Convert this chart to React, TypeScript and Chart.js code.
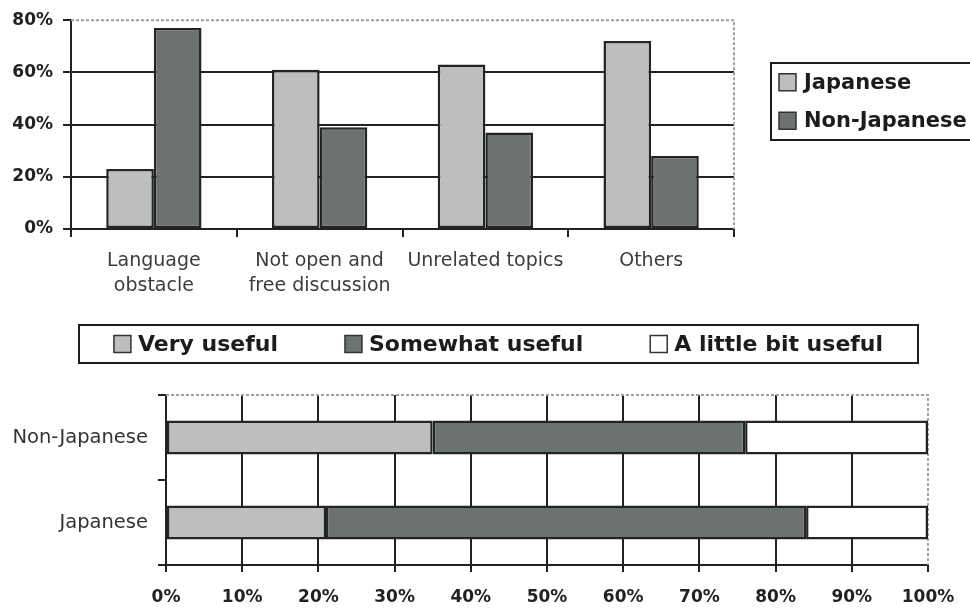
import React, { useEffect, useRef } from "react";
import { Chart, registerables } from "chart.js";

Chart.register(...registerables);

// ---------- Data ----------
const obstacleCategories = [
  ["Language", "obstacle"],
  ["Not open and", "free discussion"],
  ["Unrelated topics"],
  ["Others"],
];
const japaneseShare = [23, 61, 63, 72];
const nonJapaneseShare = [77, 39, 37, 28];
const topAxisMax = 80;
const topAxisStep = 20;

const groupLabels = ["Non-Japanese", "Japanese"];
const veryUseful = [35, 21];
const somewhatUseful = [41, 63];
const littleBitUseful = [24, 16];
const bottomAxisMax = 100;
const bottomAxisStep = 10;

// ---------- Styles ----------
const LIGHT = "#bcbfbb";
const DARK = "#6c736e";
const WHITE = "#ffffff";
const EDGE = "#242424";
const GRID = "#222222";
const FONT = "'DejaVu Sans', 'Liberation Sans', Arial, sans-serif";

const plotFrame = {
  id: "plotFrame",
  beforeDatasetsDraw(chart: any) {
    const { ctx, chartArea: a } = chart;
    ctx.save();
    ctx.strokeStyle = "#a0a0a0";
    ctx.lineWidth = 2;
    ctx.setLineDash([3, 2]);
    ctx.beginPath();
    ctx.moveTo(a.left, a.top);
    ctx.lineTo(a.right, a.top);
    ctx.lineTo(a.right, a.bottom);
    ctx.stroke();
    ctx.restore();
  },
};

const boxLegend = {
  id: "boxLegend",
  afterDraw(chart: any, _args: any, opts: any) {
    if (!opts || !opts.show) return;
    const ctx = chart.ctx;
    const items = chart.data.datasets.map((d: any) => ({
      text: d.label as string,
      fill: d.backgroundColor as string,
    }));
    ctx.save();
    ctx.font = `bold ${opts.fontSize}px ${FONT}`;
    ctx.fillStyle = "#ffffff";
    ctx.fillRect(opts.x, opts.y, opts.w, opts.h);
    ctx.lineWidth = 2;
    ctx.strokeStyle = "#1e1e1e";
    ctx.strokeRect(opts.x, opts.y, opts.w, opts.h);
    ctx.textBaseline = "middle";
    ctx.textAlign = "left";
    const sw = opts.swatch;
    const drawItem = (it: any, x: number, cy: number) => {
      ctx.fillStyle = it.fill;
      ctx.fillRect(x, cy - sw / 2, sw, sw);
      ctx.lineWidth = 1.5;
      ctx.strokeStyle = "#333333";
      ctx.strokeRect(x, cy - sw / 2, sw, sw);
      ctx.fillStyle = "#1c1c1c";
      ctx.fillText(it.text, x + sw + opts.gap, cy + 1);
    };
    if (opts.layout === "column") {
      const rowH = opts.h / items.length;
      items.forEach((it: any, i: number) => {
        drawItem(it, opts.x + opts.padX, opts.y + rowH * (i + 0.5));
      });
    } else {
      const widths = items.map((it: any) => sw + opts.gap + ctx.measureText(it.text).width);
      const total = widths.reduce((s: number, w: number) => s + w, 0) + opts.spacing * (items.length - 1);
      let x = opts.x + (opts.w - total) / 2;
      const cy = opts.y + opts.h / 2;
      items.forEach((it: any, i: number) => {
        drawItem(it, x, cy);
        x += widths[i] + opts.spacing;
      });
    }
    ctx.restore();
  },
};

function TopChart() {
  const ref = useRef<HTMLCanvasElement | null>(null);
  useEffect(() => {
    if (!ref.current) return;
    const chart = new Chart(ref.current, {
      type: "bar",
      data: {
        labels: obstacleCategories as any,
        datasets: [
          {
            label: "Japanese",
            data: japaneseShare,
            backgroundColor: LIGHT,
            borderColor: EDGE,
            borderWidth: 2.5,
            borderSkipped: false,
          },
          {
            label: "Non-Japanese",
            data: nonJapaneseShare,
            backgroundColor: DARK,
            borderColor: EDGE,
            borderWidth: 2.5,
            borderSkipped: false,
          },
        ],
      },
      options: {
        responsive: false,
        animation: false,
        layout: { padding: { top: 20, left: 0, right: 236, bottom: 0 } },
        datasets: { bar: { categoryPercentage: 0.575, barPercentage: 1 } },
        plugins: {
          legend: { display: false },
          tooltip: { enabled: false },
          boxLegend: {
            show: true,
            layout: "column",
            x: 771,
            y: 63,
            w: 230,
            h: 77,
            padX: 8,
            fontSize: 21,
            swatch: 17,
            gap: 8,
          },
        } as any,
        scales: {
          x: {
            grid: {
              offset: true,
              drawOnChartArea: false,
              drawTicks: true,
              tickLength: 8,
              tickColor: GRID,
              tickWidth: 2,
              lineWidth: 2,
              color: GRID,
            },
            border: { display: true, color: GRID, width: 2 },
            ticks: {
              color: "#3c3c3c",
              font: { family: FONT, size: 19, lineHeight: 1.3 },
              padding: 12,
              maxRotation: 0,
              autoSkip: false,
            },
            afterFit: (s: any) => {
              s.height = 76;
            },
          },
          y: {
            min: 0,
            max: topAxisMax,
            ticks: {
              stepSize: topAxisStep,
              callback: (v: any) => v + "%",
              color: "#222222",
              font: { family: FONT, size: 17, weight: "bold" },
              padding: 10,
            },
            grid: {
              color: (c: any) => (c.tick && c.tick.value === topAxisMax ? "rgba(0,0,0,0)" : GRID),
              lineWidth: 2,
              tickLength: 8,
              tickColor: GRID,
              tickWidth: 2,
            },
            border: { color: GRID, width: 2 },
            afterFit: (s: any) => {
              s.width = 71;
            },
          },
        },
      },
      plugins: [plotFrame, boxLegend],
    });
    return () => chart.destroy();
  }, []);
  return <canvas ref={ref} width={970} height={305} style={{ display: "block" }} />;
}

function BottomChart() {
  const ref = useRef<HTMLCanvasElement | null>(null);
  useEffect(() => {
    if (!ref.current) return;
    const chart = new Chart(ref.current, {
      type: "bar",
      data: {
        labels: groupLabels,
        datasets: [
          {
            label: "Very useful",
            data: veryUseful,
            backgroundColor: LIGHT,
            borderColor: EDGE,
            borderWidth: 2.5,
            borderSkipped: false,
          },
          {
            label: "Somewhat useful",
            data: somewhatUseful,
            backgroundColor: DARK,
            borderColor: EDGE,
            borderWidth: 2.5,
            borderSkipped: false,
          },
          {
            label: "A little bit useful",
            data: littleBitUseful,
            backgroundColor: WHITE,
            borderColor: EDGE,
            borderWidth: 2.5,
            borderSkipped: false,
          },
        ],
      },
      options: {
        indexAxis: "y",
        responsive: false,
        animation: false,
        layout: { padding: { top: 90, left: 0, right: 42, bottom: 0 } },
        datasets: { bar: { categoryPercentage: 0.4, barPercentage: 1 } },
        plugins: {
          legend: { display: false },
          tooltip: { enabled: false },
          boxLegend: {
            show: true,
            layout: "row",
            x: 79,
            y: 20,
            w: 839,
            h: 38,
            fontSize: 22,
            swatch: 17,
            gap: 7,
            spacing: 67,
          },
        } as any,
        scales: {
          x: {
            stacked: true,
            min: 0,
            max: bottomAxisMax,
            ticks: {
              stepSize: bottomAxisStep,
              callback: (v: any) => v + "%",
              color: "#222222",
              font: { family: FONT, size: 17, weight: "bold" },
              padding: 15,
              maxRotation: 0,
            },
            grid: {
              color: (c: any) => (c.tick && c.tick.value === bottomAxisMax ? "rgba(0,0,0,0)" : GRID),
              lineWidth: 2,
              tickLength: 7,
              tickColor: GRID,
              tickWidth: 2,
            },
            border: { color: GRID, width: 2 },
            afterFit: (s: any) => {
              s.height = 43;
            },
          },
          y: {
            stacked: true,
            grid: {
              offset: true,
              drawOnChartArea: false,
              tickLength: 8,
              tickColor: GRID,
              tickWidth: 2,
              lineWidth: 2,
              color: GRID,
            },
            border: { color: GRID, width: 2 },
            ticks: {
              color: "#333333",
              font: { family: FONT, size: 19.5 },
              padding: 10,
            },
            afterFit: (s: any) => {
              s.width = 166;
            },
          },
        },
      },
      plugins: [plotFrame, boxLegend],
    });
    return () => chart.destroy();
  }, []);
  return <canvas ref={ref} width={970} height={303} style={{ display: "block" }} />;
}

export default function App() {
  return (
    <div
      style={{
        position: "absolute",
        left: 0,
        top: 0,
        width: 970,
        height: 608,
        background: "#ffffff",
        overflow: "hidden",
      }}
    >
      <div style={{ position: "absolute", left: 0, top: 0 }}>
        <TopChart />
      </div>
      <div style={{ position: "absolute", left: 0, top: 305 }}>
        <BottomChart />
      </div>
    </div>
  );
}
